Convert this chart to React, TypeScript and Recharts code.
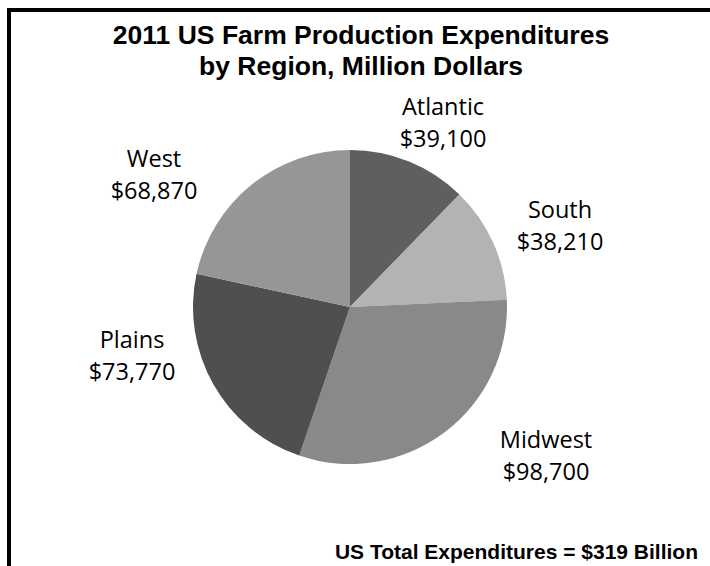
import React from "react";
import { PieChart, Pie, Cell } from "recharts";

const regions = ["Atlantic", "South", "Midwest", "Plains", "West"];
const expenditures = [39100, 38210, 98700, 73770, 68870];
const valueLabels = ["$39,100", "$38,210", "$98,700", "$73,770", "$68,870"];
const colors = ["#5f5f5f", "#b3b3b3", "#898989", "#4f4f4f", "#969696"];
// label anchor offsets from pie centre (layout only)
const labelOffsets: Record<string, [number, number]> = {
  Atlantic: [93, -192],
  South: [210, -89],
  Midwest: [196, 141],
  Plains: [-218, 41],
  West: [-196, -140],
};

const data = regions.map((r, i) => ({ name: r, value: expenditures[i], label: valueLabels[i] }));

const renderLabel = (props: any) => {
  const { cx, cy, index } = props;
  const name = regions[index];
  const [dx, dy] = labelOffsets[name];
  const x = cx + dx;
  const y = cy + dy;
  return (
    <text
      x={x}
      y={y}
      textAnchor="middle"
      fill="#000"
      style={{ fontFamily: "'Open Sans', sans-serif", fontSize: 23.5 }}
    >
      <tspan x={x} y={y}>{name}</tspan>
      <tspan x={x} y={y + 32}>{valueLabels[index]}</tspan>
    </text>
  );
};

export default function App() {
  return (
    <div style={{ position: "absolute", left: 0, top: 0, width: 710, height: 566, background: "#fff" }}>
      <div
        style={{
          position: "absolute",
          left: 7,
          top: 8,
          width: 703,
          height: 558,
          borderTop: "4px solid #000",
          borderLeft: "4px solid #000",
          boxSizing: "border-box",
        }}
      />
      <div
        style={{
          position: "absolute",
          left: 11,
          width: 700,
          top: 20,
          textAlign: "center",
          fontFamily: "'Liberation Sans', Arial, sans-serif",
          fontWeight: "bold",
          fontSize: 26.5,
          lineHeight: "31px",
          color: "#000",
        }}
      >
        2011 US Farm Production Expenditures
        <br />
        by Region, Million Dollars
      </div>
      <div style={{ position: "absolute", left: 0, top: 0 }}>
        <PieChart width={710} height={566} margin={{ top: 0, right: 0, bottom: 0, left: 0 }}>
          <Pie
            data={data}
            dataKey="value"
            nameKey="name"
            cx={350}
            cy={307}
            outerRadius={157}
            startAngle={90}
            endAngle={-270}
            stroke="none"
            label={renderLabel}
            labelLine={false}
            isAnimationActive={false}
          >
            {data.map((d, i) => (
              <Cell key={d.name} fill={colors[i]} />
            ))}
          </Pie>
        </PieChart>
      </div>
      <div
        style={{
          position: "absolute",
          right: 12,
          top: 540,
          fontFamily: "'Liberation Sans', Arial, sans-serif",
          fontWeight: "bold",
          fontSize: 21,
          lineHeight: "24px",
          color: "#000",
          whiteSpace: "nowrap",
        }}
      >
        US Total Expenditures = $319 Billion
      </div>
    </div>
  );
}
